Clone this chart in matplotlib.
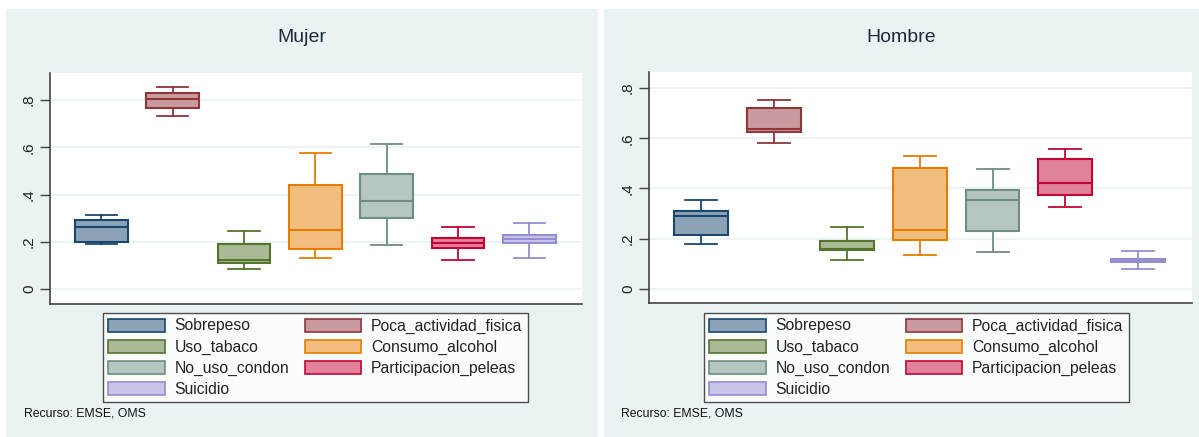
import matplotlib
matplotlib.use('Agg')
import matplotlib.pyplot as plt
from matplotlib.patches import Rectangle, Patch
from matplotlib.ticker import FixedLocator

plt.rcParams['font.family'] = ['Liberation Sans', 'DejaVu Sans']

# categories and styles
categories = ['Sobrepeso', 'Poca_actividad_fisica', 'Uso_tabaco', 'Consumo_alcohol',
              'No_uso_condon', 'Participacion_peleas', 'Suicidio']
edge_colors = ['#1a476f', '#90353b', '#55752f', '#e37e00', '#6e8e84', '#c10534', '#938dd2']
fill_colors = ['#8ca3b7', '#c89a9d', '#aaba97', '#f1be7f', '#b6c6c1', '#e08299', '#c9c6e8']

# Mujer: box stats
mujer_whislo = [0.190, 0.732, 0.084, 0.133, 0.185, 0.122, 0.133]
mujer_q1     = [0.200, 0.767, 0.110, 0.168, 0.302, 0.173, 0.195]
mujer_med    = [0.261, 0.806, 0.122, 0.248, 0.371, 0.197, 0.211]
mujer_q3     = [0.292, 0.828, 0.191, 0.439, 0.487, 0.217, 0.228]
mujer_whishi = [0.313, 0.855, 0.244, 0.578, 0.616, 0.261, 0.280]

# Hombre
hombre_whislo = [0.179, 0.582, 0.114, 0.136, 0.145, 0.324, 0.080]
hombre_q1     = [0.214, 0.626, 0.153, 0.194, 0.229, 0.373, 0.106]
hombre_med    = [0.290, 0.637, 0.159, 0.234, 0.353, 0.423, 0.113]
hombre_q3     = [0.310, 0.720, 0.190, 0.482, 0.393, 0.517, 0.120]
hombre_whishi = [0.353, 0.751, 0.245, 0.528, 0.478, 0.557, 0.150]

yticks = [0, 0.2, 0.4, 0.6, 0.8]
ytick_labels = ['0', '.2', '.4', '.6', '.8']

W, H = 1199, 437
bg = '#eaf2f3'
fig = plt.figure(figsize=(W / 100, H / 100), dpi=100)
fig.patch.set_facecolor('white')


def px(x0, y0, x1, y1):
    # pixel box -> figure rect
    return [x0 / W, 1 - y1 / H, (x1 - x0) / W, (y1 - y0) / H]


def panel(x0, x1, title, ax_rect, ylim, lo, q1, med, q3, hi, leg_xy, src_x):
    r = px(x0, 9, x1, 437)
    fig.patches.append(Rectangle((r[0], r[1]), r[2], r[3], transform=fig.transFigure,
                                 facecolor=bg, edgecolor='none', zorder=-10))
    fig.text(((x0 + x1) / 2) / W, 1 - 37 / H, title, ha='center', va='center',
             fontsize=14, color='#1e2a3a')

    ax = fig.add_axes(ax_rect)
    ax.set_facecolor('white')
    stats = []
    for i in range(len(categories)):
        stats.append(dict(med=med[i], q1=q1[i], q3=q3[i], whislo=lo[i], whishi=hi[i],
                          fliers=[], label=categories[i]))
    positions = list(range(1, len(categories) + 1))
    bp = ax.bxp(stats, positions=positions, widths=0.74, patch_artist=True,
                showfliers=False, manage_ticks=False)
    for i in range(len(categories)):
        bp['boxes'][i].set(facecolor=fill_colors[i], edgecolor=edge_colors[i], linewidth=1.5)
        bp['medians'][i].set(color=edge_colors[i], linewidth=1.5)
        for k in (2 * i, 2 * i + 1):
            bp['whiskers'][k].set(color=edge_colors[i], linewidth=1.3)
            bp['caps'][k].set(color=edge_colors[i], linewidth=1.3)
            bp['caps'][k].set_xdata([positions[i] - 0.22, positions[i] + 0.22])

    ax.set_xlim(0.28, 7.74)
    ax.set_ylim(*ylim)
    ax.yaxis.set_major_locator(FixedLocator(yticks))
    ax.set_yticklabels(ytick_labels, rotation=90, va='center', fontsize=11, color='#222222')
    ax.set_xticks([])
    ax.tick_params(axis='y', length=7, width=1, color='#444444', pad=3)
    ax.grid(axis='y', color=bg, linewidth=1.3)
    ax.set_axisbelow(True)
    for s in ('top', 'right'):
        ax.spines[s].set_visible(False)
    for s in ('left', 'bottom'):
        ax.spines[s].set_color('#444444')
        ax.spines[s].set_linewidth(1.2)

    handles = [Patch(facecolor=fill_colors[i], edgecolor=edge_colors[i], linewidth=1.2,
                     label=categories[i]) for i in range(len(categories))]
    order = [0, 2, 4, 6, 1, 3, 5]
    leg = fig.legend([handles[i] for i in order], [categories[i] for i in order],
                     loc='upper left', bbox_to_anchor=(leg_xy[0] / W, 1 - leg_xy[1] / H),
                     bbox_transform=fig.transFigure, ncol=2, fontsize=11.3,
                     frameon=True, fancybox=False, edgecolor='#222222',
                     handlelength=3.6, handleheight=0.9, handletextpad=0.6,
                     columnspacing=1.0, labelspacing=0.38, borderpad=0.35,
                     borderaxespad=0)
    leg.get_frame().set_linewidth(1.0)
    for t in leg.get_texts():
        t.set_color('#222222')
    fig.text(src_x / W, 1 - 414 / H, 'Recurso: EMSE, OMS', ha='left', va='center',
             fontsize=8.8, color='#111111')
    return ax


panel(6, 598, 'Mujer', px(50, 72.7, 582, 303.7), (-0.062, 0.916),
      mujer_whislo, mujer_q1, mujer_med, mujer_q3, mujer_whishi, (103, 313), 24)
panel(604, 1199, 'Hombre', px(649, 72.3, 1192, 303.3), (-0.058, 0.863),
      hombre_whislo, hombre_q1, hombre_med, hombre_q3, hombre_whishi, (704, 313), 621)

fig.savefig('out.png', dpi=100, facecolor=fig.get_facecolor())
